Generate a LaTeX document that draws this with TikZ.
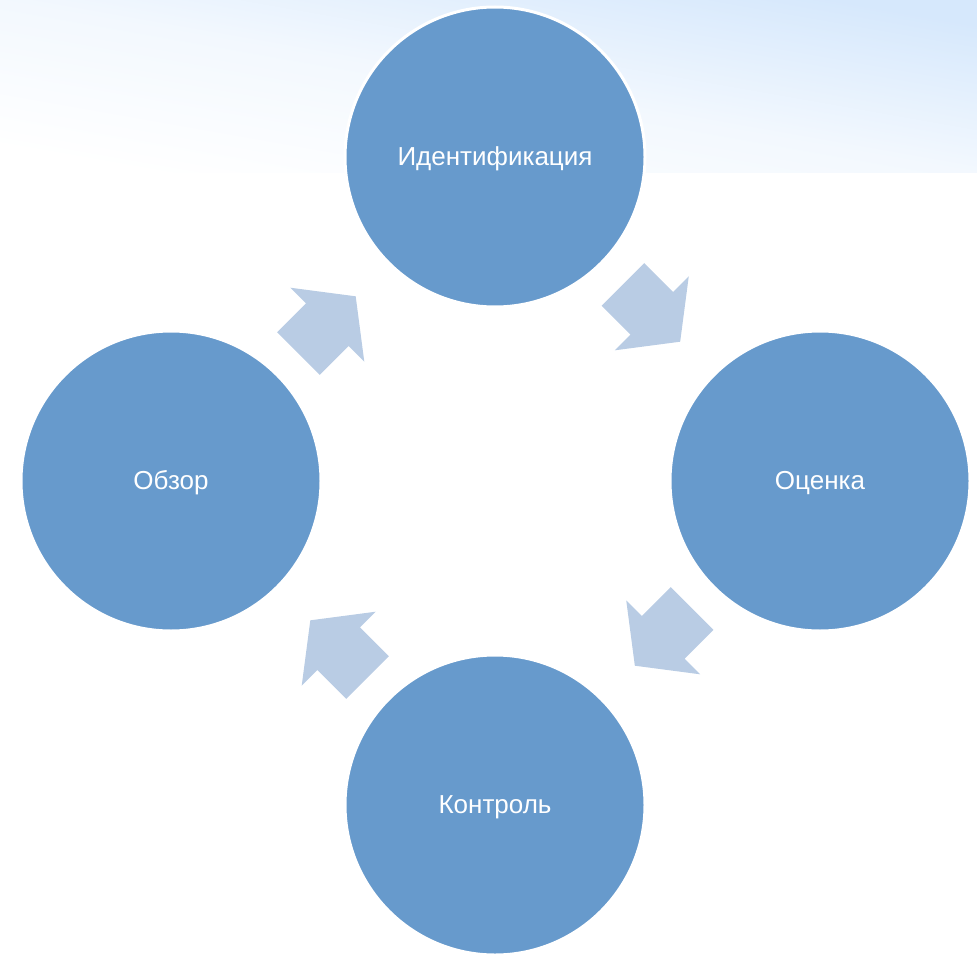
\documentclass[tikz,border=0pt]{standalone}
\usepackage{fontspec}
\setmainfont{Liberation Sans}
\usetikzlibrary{shapes.arrows,calc}
\definecolor{circblue}{RGB}{103,154,204}
\definecolor{arrblue}{RGB}{185,204,228}
\definecolor{bgblue}{RGB}{214,232,252}

\begin{document}
\begin{tikzpicture}[x=1pt, y=-1pt]
	\tikzset{nd/.style={circle, fill=circblue, draw=white, line width=3pt, minimum size=300pt, inner sep=0pt, text=white, text height=19pt, text depth=3pt, font=\fontsize{26}{30}\selectfont}}
	\tikzset{arr/.style={single arrow, fill=arrblue, draw=none, minimum height=81pt, inner xsep=0pt, inner ysep=30pt, single arrow head extend=22pt, single arrow tip angle=105}}

	\useasboundingbox (0,0) rectangle (977,955);
	\shade[top color=bgblue, bottom color=white, middle color=bgblue!30, shading angle=-10] (0,0) rectangle (977,172);

	\node[nd] (id) at (495,157) {Идентификация};
	\node[nd] (oc) at (820,481) {Оценка};
	\node[nd] (ko) at (495,805) {Контроль};
	\node[nd] (ob) at (171,481) {Обзор};

	\node[arr, rotate=-45] (a1) at ($(id)!0.5!(oc)!20pt!(id)$) {};
	\node[arr, rotate=-135] (a2) at ($(oc)!0.5!(ko)!20pt!(oc)$) {};
	\node[arr, rotate=135] (a3) at ($(ko)!0.5!(ob)!20pt!(ko)$) {};
	\node[arr, rotate=45] (a4) at ($(ob)!0.5!(id)!20pt!(ob)$) {};

\end{tikzpicture}
\end{document}
